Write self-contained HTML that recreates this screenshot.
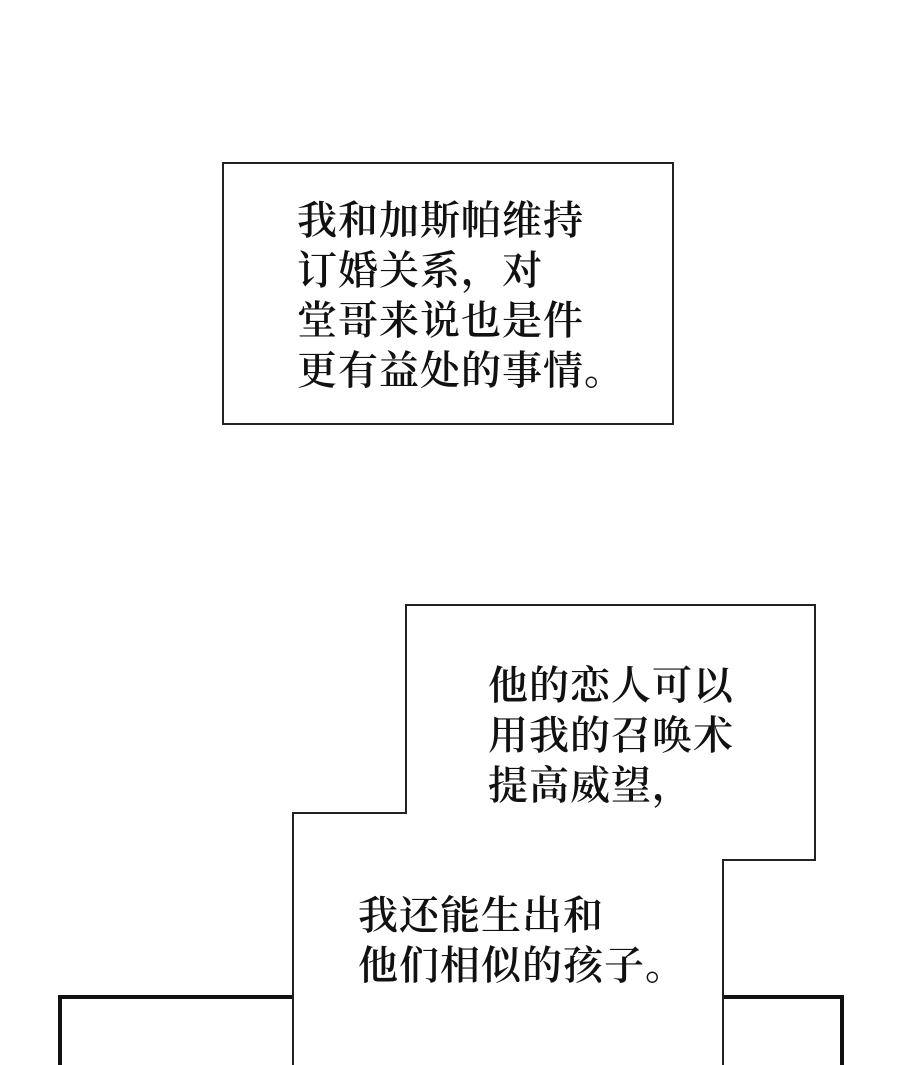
<!DOCTYPE html>
<html><head><meta charset="utf-8"><style>
html,body{margin:0;padding:0;background:#fff;width:900px;height:1065px;overflow:hidden;position:relative}
.t{position:absolute;font-family:"Noto Serif CJK SC","Liberation Serif",serif;font-size:40px;line-height:50px;color:#111;white-space:nowrap;letter-spacing:1px;font-weight:600}
svg{position:absolute;left:0;top:0}
</style></head><body>
<svg width="900" height="1065">
<rect x="223" y="163" width="450" height="261" fill="#fff" stroke="#222" stroke-width="2"/>
<path d="M60 1065 L60 997 L293 997 M723 997 L842 997 L842 1065" fill="none" stroke="#111" stroke-width="4"/>
<path d="M293 1068 L293 813 L406 813 L406 605 L815 605 L815 860 L723 860 L723 1068" fill="#fff" stroke="#222" stroke-width="2"/>
</svg>
<div class="t" style="left:297px;top:193px">我和加斯帕维持<br>订婚关系，对<br>堂哥来说也是件<br>更有益处的事情。</div>
<div class="t" style="left:488px;top:658px">他的恋人可以<br>用我的召唤术<br>提高威望，</div>
<div class="t" style="left:358px;top:888px">我还能生出和<br>他们相似的孩子。</div>
</body></html>
